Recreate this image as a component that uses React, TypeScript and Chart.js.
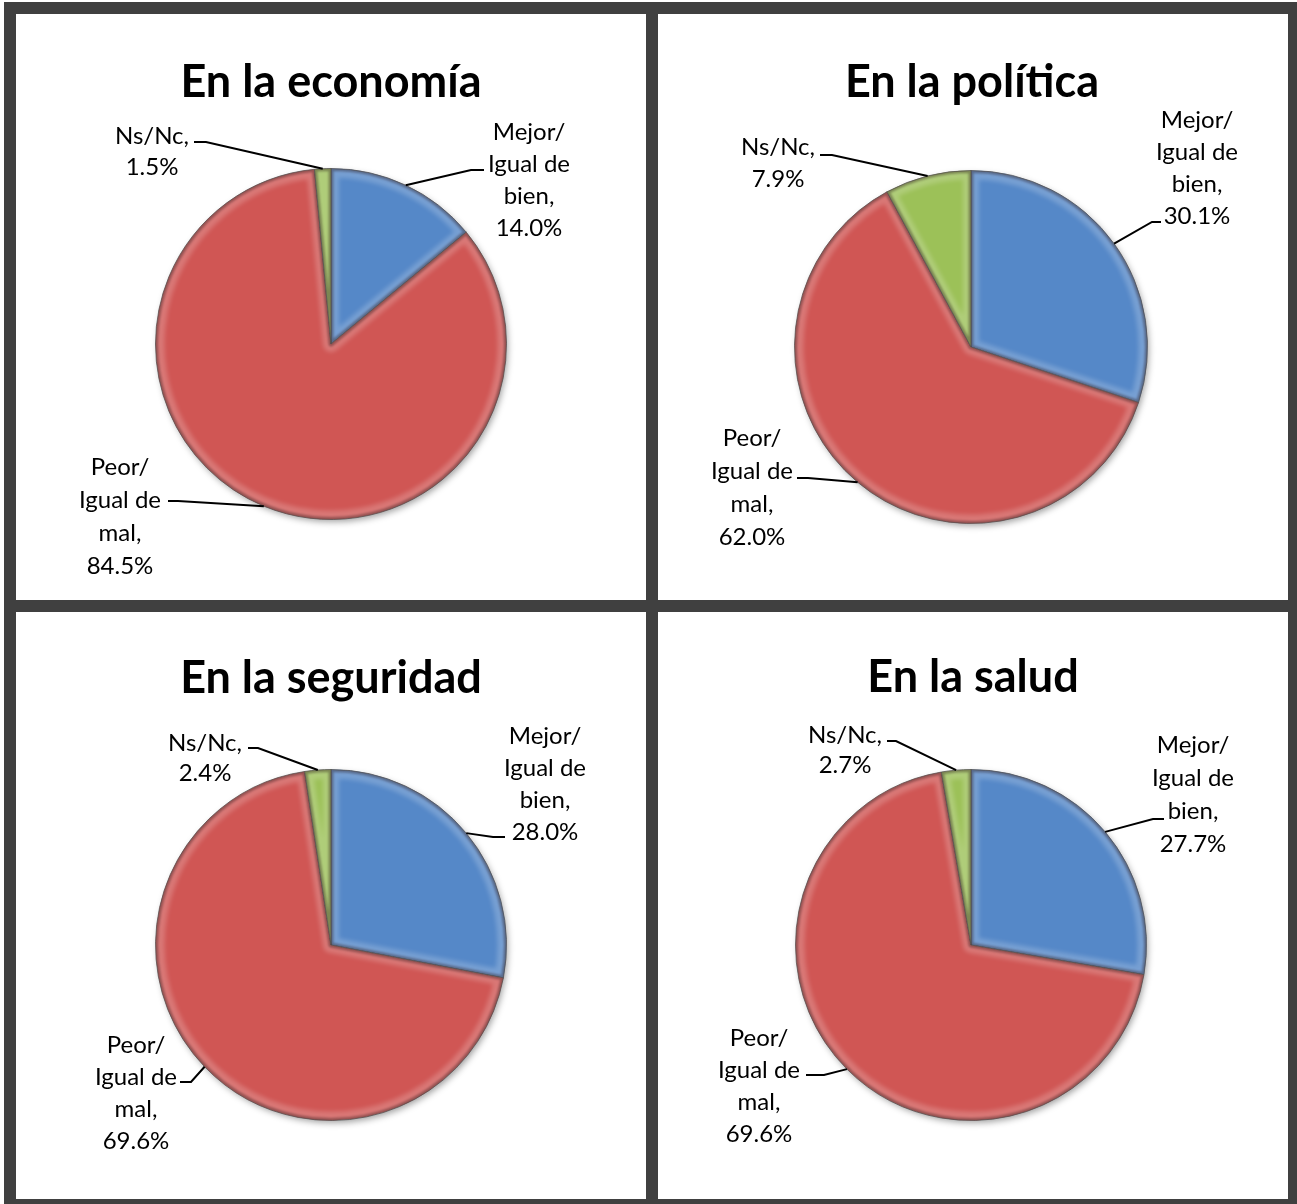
import React, { useEffect, useRef } from "react";
import { Chart, registerables } from "chart.js";

Chart.register(...registerables);

// ---- data ----
const categories = ["Mejor/ Igual de bien", "Peor/ Igual de mal", "Ns/Nc"];
const titles = ["En la economía", "En la política", "En la seguridad", "En la salud"];
const economia = [14.0, 84.5, 1.5];
const politica = [30.1, 62.0, 7.9];
const seguridad = [28.0, 69.6, 2.4];
const salud = [27.7, 69.6, 2.7];
const labelLines = [
  ["Mejor/", "Igual de", "bien,"],
  ["Peor/", "Igual de", "mal,"],
  ["Ns/Nc,"],
];
const seriesList = [economia, politica, seguridad, salud];

// ---- style ----
const colors = ["#5588C8", "#D05654", "#9CC158"];
const FONT = "Lato, 'Open Sans', sans-serif";

type LabelPos = { cx: number; y0: number; gap: number; sx: number; sy: number; ex: number; ey: number };
type PanelLayout = { x: number; y: number; w: number; h: number; cx: number; cy: number; r: number; tx: number; ty: number; labels: LabelPos[] };

const layouts: PanelLayout[] = [
  {
    x: 16, y: 14, w: 630, h: 586, cx: 331, cy: 344, r: 176, tx: 331, ty: 82,
    labels: [
      { cx: 529, y0: 132, gap: 32, sx: 484, sy: 170, ex: 471, ey: 170 },
      { cx: 120, y0: 467, gap: 33, sx: 168, sy: 501, ex: 178, ey: 501 },
      { cx: 152, y0: 136, gap: 31, sx: 194, sy: 142, ex: 206, ey: 142 },
    ],
  },
  {
    x: 658, y: 14, w: 630, h: 586, cx: 971, cy: 347, r: 177, tx: 972, ty: 82,
    labels: [
      { cx: 1197, y0: 120, gap: 32, sx: 1161, sy: 222, ex: 1152, ey: 222 },
      { cx: 752, y0: 438, gap: 33, sx: 797, sy: 478, ex: 808, ey: 478 },
      { cx: 778, y0: 147, gap: 32, sx: 820, sy: 155, ex: 832, ey: 155 },
    ],
  },
  {
    x: 16, y: 612, w: 630, h: 587, cx: 331, cy: 945, r: 176, tx: 331, ty: 678,
    labels: [
      { cx: 545, y0: 736, gap: 32, sx: 505, sy: 837, ex: 493, ey: 837 },
      { cx: 136, y0: 1045, gap: 32, sx: 180, sy: 1082, ex: 191, ey: 1082 },
      { cx: 205, y0: 743, gap: 30, sx: 248, sy: 748, ex: 258, ey: 748 },
    ],
  },
  {
    x: 658, y: 612, w: 630, h: 587, cx: 971, cy: 945, r: 176, tx: 973, ty: 677,
    labels: [
      { cx: 1193, y0: 745, gap: 33, sx: 1164, sy: 819, ex: 1153, ey: 819 },
      { cx: 759, y0: 1038, gap: 32, sx: 806, sy: 1075, ex: 824, ey: 1075 },
      { cx: 845, y0: 735, gap: 30, sx: 887, sy: 741, ex: 896, ey: 741 },
    ],
  },
];

function arcPath(ctx: CanvasRenderingContext2D, x: number, y: number, r: number, a0: number, a1: number) {
  ctx.beginPath();
  ctx.moveTo(x, y);
  ctx.arc(x, y, r, a0, a1);
  ctx.closePath();
}

function makePlugin(idx: number) {
  const L = layouts[idx];
  return {
    id: "panelDeco" + idx,
    beforeDatasetsDraw(chart: any) {
      const ctx: CanvasRenderingContext2D = chart.ctx;
      const meta = chart.getDatasetMeta(0);
      const a0 = meta.data[0];
      if (!a0) return;
      const { x, y, outerRadius } = a0.getProps(["x", "y", "outerRadius"], true);
      ctx.save();
      ctx.shadowColor = "rgba(0,0,0,0.4)";
      ctx.shadowBlur = 7;
      ctx.shadowOffsetX = 2;
      ctx.shadowOffsetY = 3;
      ctx.fillStyle = "#ffffff";
      ctx.beginPath();
      ctx.arc(x, y, outerRadius - 1, 0, Math.PI * 2);
      ctx.fill();
      ctx.restore();
    },
    afterDatasetsDraw(chart: any) {
      const ctx: CanvasRenderingContext2D = chart.ctx;
      const meta = chart.getDatasetMeta(0);
      const data = chart.data.datasets[0].data as number[];
      // bevel
      meta.data.forEach((arc: any) => {
        const { x, y, startAngle, endAngle, outerRadius } = arc.getProps(
          ["x", "y", "startAngle", "endAngle", "outerRadius"], true);
        ctx.save();
        arcPath(ctx, x, y, outerRadius, startAngle, endAngle);
        ctx.clip();
        ctx.filter = "blur(2px)";
        ctx.lineJoin = "round";
        arcPath(ctx, x, y, outerRadius - 1, startAngle, endAngle);
        ctx.lineWidth = 16;
        ctx.strokeStyle = "rgba(255,255,255,0.2)";
        ctx.stroke();
        ctx.filter = "blur(1px)";
        arcPath(ctx, x, y, outerRadius, startAngle, endAngle);
        ctx.lineWidth = 5;
        ctx.strokeStyle = "rgba(40,20,20,0.38)";
        ctx.stroke();
        ctx.restore();
      });
      // labels with leader lines
      ctx.save();
      ctx.font = `24px ${FONT}`;
      ctx.fillStyle = "#000";
      ctx.textAlign = "center";
      ctx.textBaseline = "middle";
      ctx.strokeStyle = "#000";
      ctx.lineWidth = 2;
      meta.data.forEach((arc: any, i: number) => {
        const lp = L.labels[i];
        const { x, y, startAngle, endAngle, outerRadius } = arc.getProps(
          ["x", "y", "startAngle", "endAngle", "outerRadius"], true);
        const mid = (startAngle + endAngle) / 2;
        const px = x + Math.cos(mid) * outerRadius;
        const py = y + Math.sin(mid) * outerRadius;
        ctx.beginPath();
        ctx.moveTo(lp.sx - L.x, lp.sy - L.y);
        ctx.lineTo(lp.ex - L.x, lp.ey - L.y);
        ctx.lineTo(px, py);
        ctx.stroke();
        const lines = [...labelLines[i], data[i].toFixed(1) + "%"];
        lines.forEach((t, k) => {
          ctx.fillText(t, lp.cx - L.x, lp.y0 + k * lp.gap - L.y);
        });
      });
      ctx.restore();
      // title
      ctx.save();
      ctx.font = `bold 45px ${FONT}`;
      ctx.fillStyle = "#000";
      ctx.textAlign = "center";
      ctx.textBaseline = "middle";
      ctx.fillText(titles[idx], L.tx - L.x, L.ty - L.y);
      ctx.restore();
    },
  };
}

function PiePanel({ idx }: { idx: number }) {
  const ref = useRef<HTMLCanvasElement>(null);
  const L = layouts[idx];
  useEffect(() => {
    if (!ref.current) return;
    const chart = new Chart(ref.current, {
      type: "pie",
      data: {
        labels: categories,
        datasets: [
          {
            data: seriesList[idx],
            backgroundColor: colors,
            borderColor: "rgba(70,70,70,0.7)",
            borderWidth: 1,
          },
        ],
      },
      options: {
        responsive: false,
        animation: false,
        layout: {
          padding: {
            left: L.cx - L.r - L.x,
            top: L.cy - L.r - L.y,
            right: L.x + L.w - (L.cx + L.r),
            bottom: L.y + L.h - (L.cy + L.r),
          },
        },
        plugins: {
          legend: { display: false },
          tooltip: { enabled: false },
          title: { display: false },
        },
      },
      plugins: [makePlugin(idx)],
    } as any);
    return () => chart.destroy();
  }, []);
  return (
    <canvas
      ref={ref}
      width={L.w}
      height={L.h}
      style={{ position: "absolute", left: L.x, top: L.y, width: L.w, height: L.h, background: "#fff" }}
    />
  );
}

export default function App() {
  return (
    <div style={{ position: "absolute", left: 0, top: 0, width: 1297, height: 1204, background: "#fff", overflow: "hidden" }}>
      <div style={{ position: "absolute", left: 4, top: 2, width: 1293, height: 1202, background: "#404040" }} />
      {layouts.map((_, i) => (
        <PiePanel key={i} idx={i} />
      ))}
    </div>
  );
}
